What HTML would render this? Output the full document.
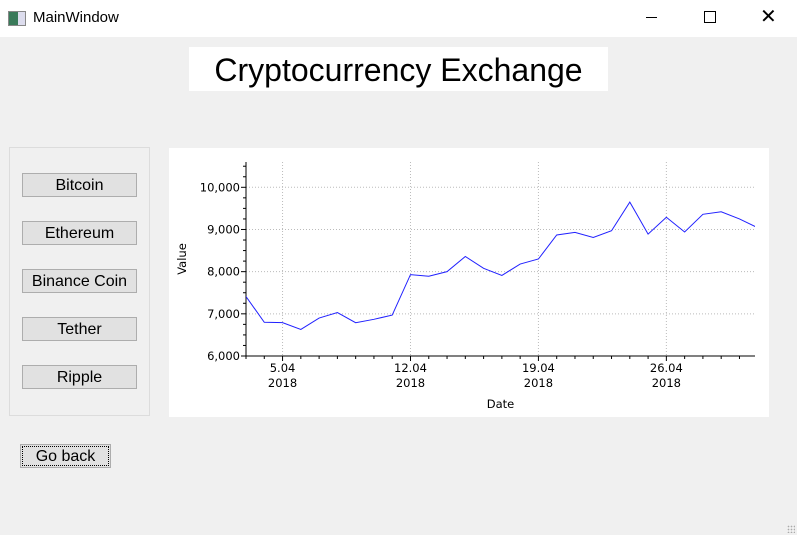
<!DOCTYPE html>
<html><head><meta charset="utf-8"><style>
body{margin:0;width:797px;height:535px;background:#f0f0f0;font-family:"Liberation Sans",sans-serif;position:relative;overflow:hidden}
.abs{position:absolute}
.btn{position:absolute;left:22px;width:113px;height:24px;background:#e1e1e1;border:1px solid #adadad;font-size:16px;text-align:center;line-height:23px;box-sizing:border-box;width:115px}
</style></head><body>
<div class="abs" style="left:0;top:0;width:797px;height:37px;background:#fff">
 <div class="abs" style="left:8px;top:11px;width:16px;height:13px;border:1px solid #888;background:linear-gradient(90deg,#3a7a5a 55%,#dde 55%)"></div>
 <div class="abs" style="left:33px;top:9px;font-size:15px">MainWindow</div>
 <div class="abs" style="left:646px;top:17px;width:11px;height:1px;background:#000"></div>
 <div class="abs" style="left:704px;top:11px;width:10px;height:10px;border:1px solid #000"></div>
 <div class="abs" style="left:760px;top:4px;font-size:20px;font-weight:300">✕</div>
</div>
<div class="abs" style="left:189px;top:47px;width:419px;height:44px;background:#fff;font-size:32px;text-align:center;line-height:46px">Cryptocurrency Exchange</div>
<div class="abs" style="left:9px;top:147px;width:141px;height:269px;border:1px solid #dcdcdc;box-sizing:border-box"></div>
<div class="btn" style="top:173px">Bitcoin</div>
<div class="btn" style="top:221px">Ethereum</div>
<div class="btn" style="top:269px">Binance Coin</div>
<div class="btn" style="top:317px">Tether</div>
<div class="btn" style="top:365px">Ripple</div>
<div class="btn" style="left:20px;top:444px;width:91px;outline:1px dotted #000;outline-offset:-3px">Go back</div>
<svg class="abs" style="left:169px;top:148px" width="600" height="269" id="chart"></svg>
<script>
const days=[3,4,5,6,7,8,9,10,11,12,13,14,15,16,17,18,19,20,21,22,23,24,25,26,27,28,29,30,31];
const values=[7410,6800,6790,6630,6900,7030,6790,6870,6970,7930,7890,8000,8360,8080,7910,8180,8300,8870,8930,8810,8970,9650,8890,9290,8940,9360,9420,9250,9040];
const yTicks=[6000,7000,8000,9000,10000];
const yLabels=["6,000","7,000","8,000","9,000","10,000"];
const xTicks=[5,12,19,26];
const xLabels=["5.04","12.04","19.04","26.04"];
const svg=document.getElementById('chart');
const NS='http://www.w3.org/2000/svg';
const L=77,R=586,T=14,B=208,x0=3,x1=30.85,y0=6000,y1=10600;
const X=d=>L+(d-x0)/(x1-x0)*(R-L);
const Y=v=>B-(v-y0)/(y1-y0)*(B-T);
function el(t,a,txt){const e=document.createElementNS(NS,t);for(const k in a)e.setAttribute(k,a[k]);if(txt!=null)e.textContent=txt;svg.appendChild(e);return e;}
el('rect',{x:0,y:0,width:600,height:269,fill:'#fff'});
yTicks.forEach((v,i)=>{
 const g=el('line',{x1:L,x2:R,y1:Y(v),y2:Y(v),stroke:'#bbb','stroke-dasharray':'1 2'});
 
 const t=el('text',{x:L-6,y:Y(v)+4,'text-anchor':'end','font-size':11.5,'font-family':'DejaVu Sans, sans-serif'},yLabels[i]);
 
});
for(let v=6000;v<=10600;v+=250){el('line',{x1:L-(v%1000==0?5:3),x2:L,y1:Y(v),y2:Y(v),stroke:'#000'});}
xTicks.forEach((d,i)=>{
 const g=el('line',{x1:X(d),x2:X(d),y1:T,y2:B,stroke:'#bbb','stroke-dasharray':'1 2'});
 
 const t=el('text',{x:X(d),y:B+16,'text-anchor':'middle','font-size':11.5,'font-family':'DejaVu Sans, sans-serif'},xLabels[i]);
 
 const t2=el('text',{x:X(d),y:B+31,'text-anchor':'middle','font-size':11.5,'font-family':'DejaVu Sans, sans-serif'},'2018');
 
});
for(let d=3;d<=30;d++){el('line',{x1:X(d),x2:X(d),y1:B,y2:B+(d%7==5?5:3),stroke:'#000'});}
el('line',{x1:L,x2:L,y1:T,y2:B,stroke:'#000'});
el('line',{x1:L,x2:R,y1:B,y2:B,stroke:'#000'});
const yt=el('text',{x:0,y:0,transform:`translate(17,${(T+B)/2}) rotate(-90)`,'text-anchor':'middle','font-size':11.5,'font-family':'DejaVu Sans, sans-serif'},'Value');

const xt=el('text',{x:(L+R)/2,y:B+52,'text-anchor':'middle','font-size':11.5,'font-family':'DejaVu Sans, sans-serif'},'Date');

el('clipPath',{id:'cp'}).appendChild(Object.assign(document.createElementNS(NS,'rect'),{}));
const cr=svg.querySelector('#cp rect');cr.setAttribute('x',L);cr.setAttribute('y',0);cr.setAttribute('width',R-L);cr.setAttribute('height',B);
const line=el('polyline',{points:days.map((d,i)=>X(d)+','+Y(values[i])).join(' '),fill:'none',stroke:'#2020ff','stroke-width':1,'clip-path':'url(#cp)'});

</script>
<div class="abs" style="right:2px;bottom:2px;width:8px;height:8px;background:radial-gradient(#aaa 35%,transparent 40%) 0 0/3px 3px"></div>
</body></html>
